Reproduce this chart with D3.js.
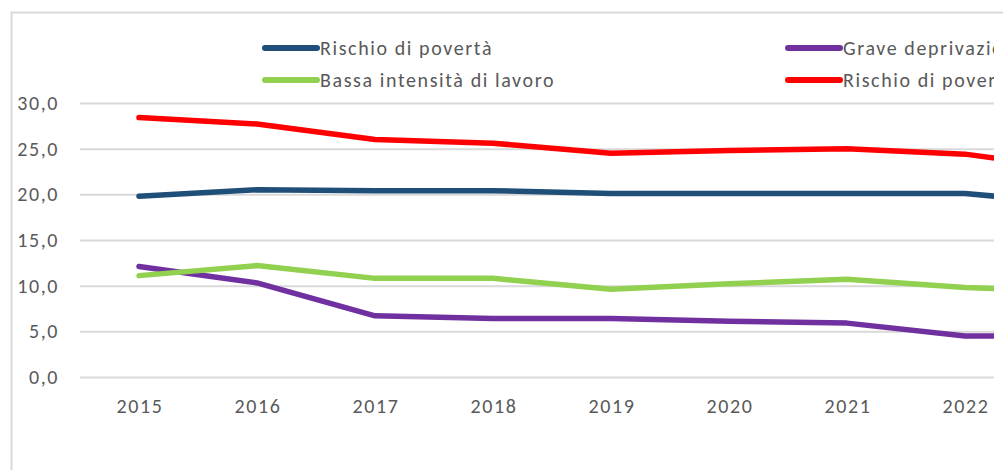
<!DOCTYPE html>
<html>
<head>
<meta charset="utf-8">
<script src="https://cdn.jsdelivr.net/npm/d3@7"></script>
<style>
  body { margin: 0; background: #fff; }
  svg text { font-family: Carlito, Lato, sans-serif; fill: #595959; letter-spacing: 1.6px; }
</style>
</head>
<body>
<svg id="chart" width="1003" height="470"></svg>
<script>
// data
var years = [2015, 2016, 2017, 2018, 2019, 2020, 2021, 2022, 2023];
var rischioPoverta = [19.8, 20.5, 20.4, 20.4, 20.1, 20.1, 20.1, 20.1, 18.9];
var graveDeprivazione = [12.1, 10.3, 6.7, 6.4, 6.4, 6.1, 5.9, 4.5, 4.5];
var bassaIntensita = [11.1, 12.2, 10.8, 10.8, 9.6, 10.2, 10.7, 9.8, 9.3];
var rischioEsclusione = [28.4, 27.7, 26.0, 25.6, 24.5, 24.8, 25.0, 24.4, 22.7];
var yTicks = [0, 5, 10, 15, 20, 25, 30];
// the picture is cut at the right, 2023 label is not visible
var xTicks = [2015, 2016, 2017, 2018, 2019, 2020, 2021, 2022];

var seriesNames = ["Rischio di povertà", "Grave deprivazione", "Bassa intensità di lavoro", "Rischio di povertà o esclusione sociale"];
var seriesColors = ["#1f4e79", "#7030a0", "#92d050", "#ff0000"];

var svg = d3.select("#chart");

//chart border (left + top)
svg.append("path")
    .attr("d", "M11.5,470V12.5H1003")
    .attr("fill", "none")
    .attr("stroke", "#d9d9d9")
    .attr("stroke-width", 2);

var plotLeft = 80, plotTop = 103, plotBottom = 377, step = 118;

var x = d3.scaleBand()
    .domain(years)
    .range([plotLeft, plotLeft + step * years.length])
    .padding(0);

var y = d3.scaleLinear()
    .domain([0, 30])
    .range([plotBottom, plotTop]);

var it = d3.formatLocale({decimal: ",", thousands: ".", grouping: [3], currency: ["€", ""]});

svg.append("clipPath").attr("id", "clip")
    .append("rect").attr("x", 0).attr("y", 0).attr("width", 994).attr("height", 470);

var g = svg.append("g").attr("clip-path", "url(#clip)");

//gridlines + y labels
var yAxis = d3.axisLeft(y)
    .tickValues(yTicks)
    .tickFormat(it.format(".1f"))
    .tickSizeInner(-(step * years.length))
    .tickSizeOuter(0)
    .tickPadding(21);

var yg = g.append("g")
    .attr("transform", "translate(" + plotLeft + ",0)")
    .call(yAxis);
yg.select(".domain").remove();
yg.selectAll(".tick line").attr("stroke", "#d9d9d9").attr("stroke-width", 2);
yg.selectAll(".tick text").style("font-size", "20px").attr("fill", "#595959");

//x labels
var xAxis = d3.axisBottom(x).tickValues(xTicks).tickSize(0).tickPadding(0);
var xg = g.append("g")
    .attr("transform", "translate(1," + (plotBottom + 22) + ")")
    .call(xAxis);
xg.select(".domain").remove();
xg.selectAll(".tick text").style("font-size", "20px").attr("fill", "#595959");

var line = d3.line()
    .x(function(d, i) { return x(years[i]) + x.bandwidth() / 2; })
    .y(function(d) { return y(d); });

var allSeries = [rischioPoverta, graveDeprivazione, bassaIntensita, rischioEsclusione];

g.selectAll(".serie")
    .data(allSeries)
    .enter()
    .append("path")
    .attr("class", "serie")
    .attr("d", line)
    .attr("fill", "none")
    .attr("stroke", function(d, i) { return seriesColors[i]; })
    .attr("stroke-width", 5.5)
    .attr("stroke-linejoin", "round")
    .attr("stroke-linecap", "round");

//legend, 2 columns x 2 rows
var legendPos = [[262, 48], [785, 48], [262, 80], [785, 80]];

var leg = g.selectAll(".leg")
    .data(seriesNames)
    .enter()
    .append("g")
    .attr("class", "leg")
    .attr("transform", function(d, i) { return "translate(" + legendPos[i][0] + "," + legendPos[i][1] + ")"; });

leg.append("line")
    .attr("x1", 3).attr("x2", 55)
    .attr("stroke", function(d, i) { return seriesColors[i]; })
    .attr("stroke-width", 6)
    .attr("stroke-linecap", "round");

leg.append("text")
    .attr("x", 58)
    .attr("dy", "0.35em")
    .style("font-size", "20px")
    .text(function(d) { return d; });
</script>
</body>
</html>
